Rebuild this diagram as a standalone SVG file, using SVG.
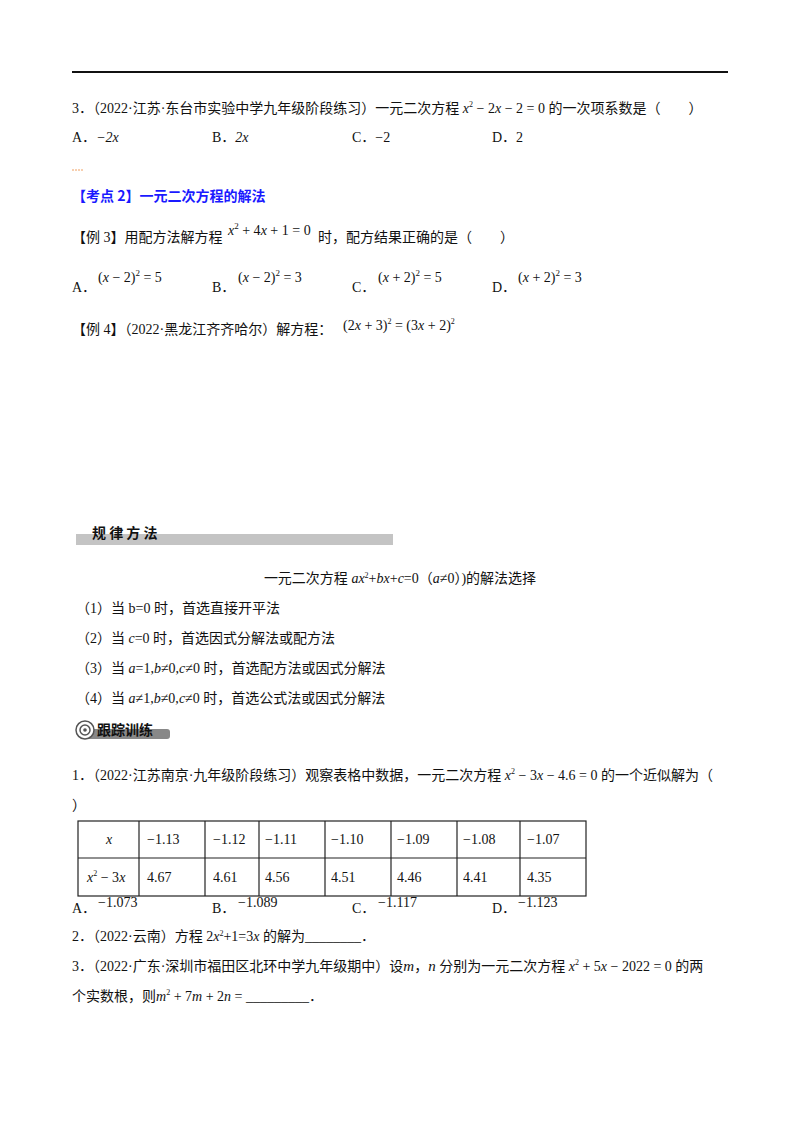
<svg xmlns="http://www.w3.org/2000/svg" width="800" height="1132" viewBox="0 0 800 1132">
<style>
text{font-family:"Liberation Serif","Noto Sans CJK SC",serif;font-size:14px;fill:#111}
.i{font-style:italic}
.b{fill:#1a1aff;font-family:"Noto Sans CJK SC",sans-serif;font-weight:bold}
.c{stroke:#222;stroke-width:1.2;fill:none}
</style>
<rect width="800" height="1132" fill="#fff"/>
<line x1="72" y1="72" x2="728" y2="72" stroke="#111" stroke-width="2"/>
<g id="q3">
<text x="72" y="113">3．（2022·江苏·东台市实验中学九年级阶段练习）一元二次方程 <tspan class="i">x</tspan><tspan dy="-6" font-size="8">2</tspan><tspan dy="6"> − 2</tspan><tspan class="i">x</tspan> − 2 = 0 的一次项系数是（　　）</text>
<text x="72" y="142">A．<tspan class="i">−2x</tspan></text>
<text x="212" y="142">B．<tspan class="i">2x</tspan></text>
<text x="352" y="142">C．−2</text>
<text x="492" y="142">D．2</text>
<line x1="72" y1="170" x2="84" y2="170" stroke="#f0a060" stroke-width="1" stroke-dasharray="2,1"/>
</g>
<g id="kd2"><text class="b" x="72" y="201" style="fill:#1a1aff">【考点 2】一元二次方程的解法</text></g>
<g id="ex3">
<text x="72" y="242">【例 3】用配方法解方程</text>
<text x="228" y="235" font-size="15"><tspan class="i">x</tspan><tspan dy="-6" font-size="9">2</tspan><tspan dy="6"> + 4</tspan><tspan class="i">x</tspan> + 1 = 0</text>
<text x="318" y="242">时，配方结果正确的是（　　）</text>
<text x="72" y="292">A．</text><text x="98" y="282" font-size="15">(<tspan class="i">x</tspan> − 2)<tspan dy="-6" font-size="9">2</tspan><tspan dy="6"> = 5</tspan></text>
<text x="212" y="292">B．</text><text x="238" y="282" font-size="15">(<tspan class="i">x</tspan> − 2)<tspan dy="-6" font-size="9">2</tspan><tspan dy="6"> = 3</tspan></text>
<text x="352" y="292">C．</text><text x="378" y="282" font-size="15">(<tspan class="i">x</tspan> + 2)<tspan dy="-6" font-size="9">2</tspan><tspan dy="6"> = 5</tspan></text>
<text x="492" y="292">D．</text><text x="518" y="282" font-size="15">(<tspan class="i">x</tspan> + 2)<tspan dy="-6" font-size="9">2</tspan><tspan dy="6"> = 3</tspan></text>
</g>
<g id="ex4">
<text x="72" y="334">【例 4】（2022·黑龙江齐齐哈尔）解方程：</text>
<text x="343" y="330">(2<tspan class="i">x</tspan> + 3)<tspan dy="-6" font-size="8">2</tspan><tspan dy="6"> = (3</tspan><tspan class="i">x</tspan> + 2)<tspan dy="-6" font-size="8">2</tspan></text>
</g>
<g id="banner1">
<rect x="76" y="534" width="317" height="11" fill="#c4c4c4"/>
<text x="92" y="538" font-size="12" font-weight="bold" style="font-family:'Noto Sans CJK SC',sans-serif" fill="#333">规 律 方 法</text>
</g>
<g id="rules">
<text x="400" y="583" text-anchor="middle">一元二次方程 <tspan class="i">ax</tspan><tspan dy="-5" font-size="8">2</tspan><tspan dy="5">+</tspan><tspan class="i">bx</tspan>+<tspan class="i">c</tspan>=0（<tspan class="i">a</tspan>≠0）)的解法选择</text>
<text x="76" y="613">（1）当 b=0 时，首选直接开平法</text>
<text x="76" y="643">（2）当 <tspan class="i">c</tspan>=0 时，首选因式分解法或配方法</text>
<text x="76" y="673">（3）当 <tspan class="i">a</tspan>=1,<tspan class="i">b</tspan>≠0,<tspan class="i">c</tspan>≠0 时，首选配方法或因式分解法</text>
<text x="76" y="703">（4）当 <tspan class="i">a</tspan>≠1,<tspan class="i">b</tspan>≠0,<tspan class="i">c</tspan>≠0 时，首选公式法或因式分解法</text>
</g>
<g id="banner2">
<rect x="80" y="729" width="90" height="10" rx="3" fill="#888"/>
<circle cx="85" cy="730" r="9" fill="#fff" stroke="#555" stroke-width="1.5"/>
<circle cx="85" cy="730" r="5" fill="none" stroke="#555" stroke-width="1.5"/>
<circle cx="85" cy="730" r="1.8" fill="#555"/>
<text x="97" y="735" font-size="13" font-weight="bold" style="font-family:'Noto Sans CJK SC',sans-serif" fill="#222">跟踪训练</text>
</g>
<g id="t1">
<text x="72" y="780">1．（2022·江苏南京·九年级阶段练习）观察表格中数据，一元二次方程 <tspan class="i">x</tspan><tspan dy="-6" font-size="8">2</tspan><tspan dy="6"> − 3</tspan><tspan class="i">x</tspan> − 4.6 = 0 的一个近似解为（</text>
<text x="72" y="810">）</text>
</g>
<g id="table">
<rect x="78" y="821" width="508" height="75" class="c"/>
<line x1="78" y1="858" x2="586" y2="858" class="c"/>
<line x1="139" y1="821" x2="139" y2="896" class="c"/>
<line x1="205" y1="821" x2="205" y2="896" class="c"/>
<line x1="259" y1="821" x2="259" y2="896" class="c"/>
<line x1="325" y1="821" x2="325" y2="896" class="c"/>
<line x1="391" y1="821" x2="391" y2="896" class="c"/>
<line x1="457" y1="821" x2="457" y2="896" class="c"/>
<line x1="520" y1="821" x2="520" y2="896" class="c"/>
<text x="109" y="844" text-anchor="middle" class="i">x</text>
<text x="147" y="844">−1.13</text><text x="213" y="844">−1.12</text><text x="265" y="844">−1.11</text><text x="331" y="844">−1.10</text><text x="397" y="844">−1.09</text><text x="463" y="844">−1.08</text><text x="527" y="844">−1.07</text>
<text x="87" y="882"><tspan class="i">x</tspan><tspan dy="-6" font-size="8">2</tspan><tspan dy="6"> − 3</tspan><tspan class="i">x</tspan></text>
<text x="147" y="882">4.67</text><text x="213" y="882">4.61</text><text x="265" y="882">4.56</text><text x="331" y="882">4.51</text><text x="397" y="882">4.46</text><text x="463" y="882">4.41</text><text x="527" y="882">4.35</text>
</g>
<g id="t1opts">
<text x="72" y="913">A．</text><text x="98" y="907">−1.073</text>
<text x="212" y="913">B．</text><text x="238" y="907">−1.089</text>
<text x="352" y="913">C．</text><text x="378" y="907">−1.117</text>
<text x="492" y="913">D．</text><text x="518" y="907">−1.123</text>
</g>
<g id="t2"><text x="72" y="941">2．（2022·云南）方程 2<tspan class="i">x</tspan><tspan dy="-5" font-size="8">2</tspan><tspan dy="5">+1=3</tspan><tspan class="i">x</tspan> 的解为________．</text></g>
<g id="t3">
<text x="72" y="971">3．（2022·广东·深圳市福田区北环中学九年级期中）设<tspan class="i" font-size="15">m</tspan>，<tspan class="i" font-size="15">n</tspan> 分别为一元二次方程 <tspan class="i">x</tspan><tspan dy="-6" font-size="8">2</tspan><tspan dy="6"> + 5</tspan><tspan class="i">x</tspan> − 2022 = 0 的两</text>
<text x="72" y="1001">个实数根，则<tspan class="i">m</tspan><tspan dy="-6" font-size="8">2</tspan><tspan dy="6"> + 7</tspan><tspan class="i">m</tspan> + 2<tspan class="i">n</tspan> = _________．</text>
</g>
</svg>
